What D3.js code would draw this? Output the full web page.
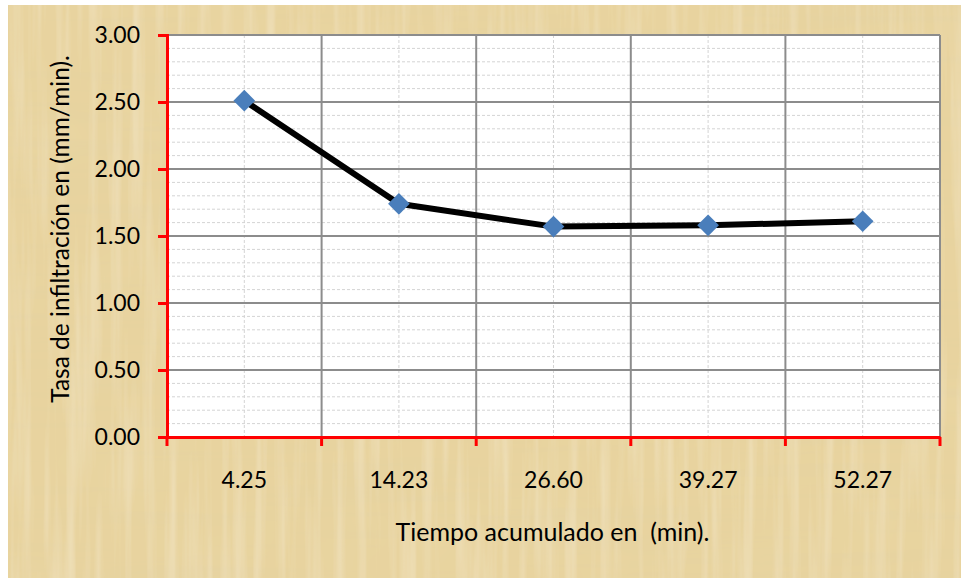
<!DOCTYPE html>
<html>
<head>
<meta charset="utf-8">
<script src="https://cdn.jsdelivr.net/npm/d3@7"></script>
<style>
  html, body { margin: 0; padding: 0; background: #ffffff; }
  svg { display: block; }
  text { font-family: Lato, "Open Sans", sans-serif; fill: #000; white-space: pre; }
</style>
</head>
<body>
<svg id="chart" width="961" height="578"></svg>
<script>
// Infiltration test: cumulative time vs infiltration rate
const categories = ["4.25", "14.23", "26.60", "39.27", "52.27"];
const rates = [2.51, 1.74, 1.57, 1.58, 1.61];
const yTicks = [0, 0.5, 1.0, 1.5, 2.0, 2.5, 3.0];
const yMinorTicks = d3.range(0, 3.0001, 0.1);
const xTitle = "Tiempo acumulado en  (min).";
const yTitle = "Tasa de infiltración en (mm/min).";

const svg = d3.select("#chart");
const W = 961, H = 578;
const plot = { left: 167, right: 940, top: 35, bottom: 437 };

// Papyrus-like backdrop
const defs = svg.append("defs");
const f = defs.append("filter").attr("id", "papyrus")
  .attr("x", 0).attr("y", 0).attr("width", "100%").attr("height", "100%");
f.append("feTurbulence").attr("type", "fractalNoise")
  .attr("baseFrequency", "0.004 0.09").attr("numOctaves", 3).attr("seed", 4).attr("result", "h");
f.append("feColorMatrix").attr("in", "h").attr("type", "matrix")
  .attr("values", "0 0 0 0 0.72  0 0 0 0 0.62  0 0 0 0 0.38  0.9 0 0 0 -0.42").attr("result", "hc");
f.append("feTurbulence").attr("type", "fractalNoise")
  .attr("baseFrequency", "0.09 0.004").attr("numOctaves", 3).attr("seed", 9).attr("result", "v");
f.append("feColorMatrix").attr("in", "v").attr("type", "matrix")
  .attr("values", "0 0 0 0 1  0 0 0 0 0.96  0 0 0 0 0.84  1.0 0 0 0 -0.45").attr("result", "vc");
f.append("feTurbulence").attr("type", "fractalNoise")
  .attr("baseFrequency", "0.012").attr("numOctaves", 2).attr("seed", 2).attr("result", "b");
f.append("feColorMatrix").attr("in", "b").attr("type", "matrix")
  .attr("values", "0 0 0 0 0.82  0 0 0 0 0.7  0 0 0 0 0.42  0.8 0 0 0 -0.38").attr("result", "bc");
f.append("feMerge").call(m => {
  m.append("feMergeNode").attr("in", "SourceGraphic");
  m.append("feMergeNode").attr("in", "bc");
  m.append("feMergeNode").attr("in", "hc");
  m.append("feMergeNode").attr("in", "vc");
});

svg.append("rect").attr("x", 8).attr("y", 5).attr("width", W - 8).attr("height", H - 5)
  .attr("fill", "#e8d39e").attr("filter", "url(#papyrus)");
svg.append("rect").attr("x", 8).attr("y", 5).attr("width", W - 8).attr("height", H - 5)
  .attr("fill", "#e9d49f").attr("opacity", 0.4);

// Scales
const x = d3.scaleBand().domain(categories).range([plot.left, plot.right]).padding(0);
const y = d3.scaleLinear().domain([0, 3]).range([plot.bottom, plot.top]);

// Plot area
svg.append("rect").attr("x", plot.left).attr("y", plot.top)
  .attr("width", plot.right - plot.left).attr("height", plot.bottom - plot.top).attr("fill", "#ffffff");

const grid = svg.append("g");
// minor horizontal gridlines
grid.selectAll("line.hmin").data(yMinorTicks.filter(v => Math.abs(v * 2 - Math.round(v * 2)) > 1e-6))
  .join("line").attr("class", "hmin")
  .attr("x1", plot.left).attr("x2", plot.right)
  .attr("y1", d => y(d)).attr("y2", d => y(d))
  .attr("stroke", "#d4d4d4").attr("stroke-width", 1).attr("stroke-dasharray", "3,2");
// minor vertical gridlines at category centres
grid.selectAll("line.vmin").data(categories).join("line").attr("class", "vmin")
  .attr("x1", d => x(d) + x.bandwidth() / 2).attr("x2", d => x(d) + x.bandwidth() / 2)
  .attr("y1", plot.top).attr("y2", plot.bottom)
  .attr("stroke", "#d4d4d4").attr("stroke-width", 1).attr("stroke-dasharray", "3,2");
// major horizontal gridlines
grid.selectAll("line.hmaj").data(yTicks.filter(v => v > 0)).join("line").attr("class", "hmaj")
  .attr("x1", plot.left).attr("x2", plot.right)
  .attr("y1", d => y(d)).attr("y2", d => y(d))
  .attr("stroke", "#8c8c8c").attr("stroke-width", 2);
// major vertical gridlines at category boundaries
const bounds = categories.map(c => x(c)).concat([plot.right]);
grid.selectAll("line.vmaj").data(bounds.slice(1)).join("line").attr("class", "vmaj")
  .attr("x1", d => d).attr("x2", d => d)
  .attr("y1", plot.top).attr("y2", plot.bottom)
  .attr("stroke", "#8c8c8c").attr("stroke-width", 2);

const tickFont = "23px";

// Y axis
const yAxis = svg.append("g").attr("transform", `translate(${plot.left},0)`)
  .call(d3.axisLeft(y).tickValues(yTicks).tickFormat(d3.format(".2f")).tickSize(9).tickPadding(18));
yAxis.select(".domain").attr("stroke", "#ff0000").attr("stroke-width", 3);
yAxis.selectAll(".tick line").attr("stroke", "#ff0000").attr("stroke-width", 3);
yAxis.selectAll(".tick text").style("font-size", tickFont).attr("fill", "#000")
  .style("font-family", "Lato, 'Open Sans', sans-serif");

// X axis: labels centred in bands, ticks on the boundaries
const xAxis = svg.append("g").attr("transform", `translate(0,${plot.bottom})`)
  .call(d3.axisBottom(x).tickSize(0).tickPadding(35));
xAxis.select(".domain").attr("stroke", "#ff0000").attr("stroke-width", 3);
xAxis.selectAll(".tick text").style("font-size", tickFont).attr("fill", "#000")
  .style("font-family", "Lato, 'Open Sans', sans-serif");
xAxis.selectAll("line.bt").data(bounds).join("line").attr("class", "bt")
  .attr("x1", d => d).attr("x2", d => d).attr("y1", 0).attr("y2", 9)
  .attr("stroke", "#ff0000").attr("stroke-width", 3);

// Series line and markers
const cx = c => x(c) + x.bandwidth() / 2;
const pts = categories.map((c, i) => [cx(c), y(rates[i])]);
svg.append("path").datum(pts)
  .attr("d", d3.line())
  .attr("fill", "none").attr("stroke", "#000").attr("stroke-width", 6)
  .attr("stroke-linejoin", "round");
svg.selectAll("path.mk").data(pts).join("path").attr("class", "mk")
  .attr("transform", d => `translate(${d[0]},${d[1]})`)
  .attr("d", d3.symbol(d3.symbolDiamond2, 300))
  .attr("fill", "#4a7ebb");

// Titles
svg.append("text").attr("x", (plot.left + plot.right) / 2 - 1).attr("y", 541)
  .attr("text-anchor", "middle").style("font-size", "25px").text(xTitle);
svg.append("text").attr("transform", `translate(69,229) rotate(-90)`)
  .attr("text-anchor", "middle").style("font-size", "24.5px").text(yTitle);
</script>
</body>
</html>
